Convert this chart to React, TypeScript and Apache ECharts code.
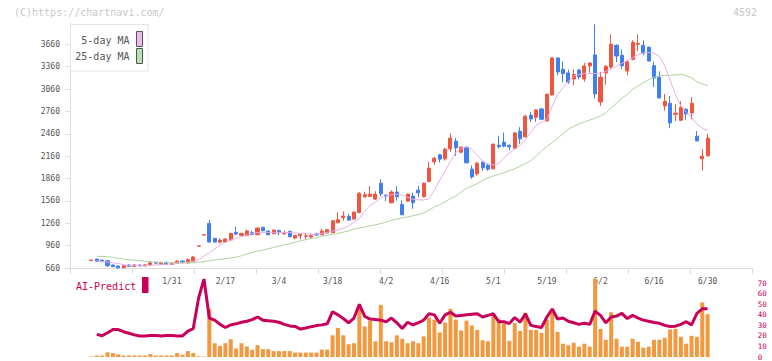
import { useEffect, useRef } from "react";
import * as echarts from "echarts";

// ---- data ----
const dates = [
  "1/9","1/10","1/14","1/15","1/16","1/17","1/20","1/21","1/22","1/23","1/24","1/27","1/28","1/29","1/30","1/31",
  "2/3","2/4","2/5","2/6","2/7","2/10","2/12","2/13","2/14","2/17","2/18","2/19","2/20","2/21","2/25","2/26","2/27","2/28",
  "3/3","3/4","3/5","3/6","3/7","3/10","3/11","3/12","3/13","3/14","3/17","3/18","3/19","3/21","3/24","3/25","3/26","3/27","3/28","3/31",
  "4/1","4/2","4/3","4/4","4/7","4/8","4/9","4/10","4/11","4/14","4/15","4/16","4/17","4/18","4/21","4/22","4/23","4/24","4/25","4/28","4/30",
  "5/1","5/2","5/7","5/8","5/9","5/12","5/13","5/14","5/15","5/16","5/19","5/20","5/21","5/22","5/23","5/26","5/27","5/28","5/29","5/30",
  "6/2","6/3","6/4","6/5","6/6","6/9","6/10","6/11","6/12","6/13","6/16","6/17","6/18","6/19","6/20","6/23","6/24","6/25","6/26","6/27","6/30"
];

const opens = [
  759,780,767,758,700,687,664,700,680,700,
  688,704,736,709,736,709,723,754,727,745,
  951,1101,1258,1058,1008,1008,1035,1138,1097,1093,
  1133,1106,1205,1155,1120,1165,1120,1151,1062,1093,
  1085,1075,1115,1106,1129,1133,1267,1334,1352,1316,
  1406,1615,1620,1584,1798,1637,1535,1678,1513,1557,
  1624,1704,1615,1821,2084,2178,2124,2258,2361,2214,
  2281,1986,1923,2080,2039,1990,2307,2347,2307,2267,
  2495,2419,2709,2682,2794,2633,2981,3477,3325,3276,
  3195,3316,3195,3370,3517,2887,3276,3356,3646,3512,
  3303,3459,3660,3646,3620,3374,3218,2834,2870,2722,
  2642,2790,2740,2428,2124,2164
];

const closes = [
  767,752,745,691,678,662,691,680,700,688,
  702,731,725,736,709,727,754,740,771,807,
  957,1107,1008,1008,1035,1048,1125,1115,1125,1155,
  1110,1196,1160,1106,1169,1133,1128,1080,1097,1111,
  1091,1093,1102,1155,1173,1294,1307,1356,1303,1410,
  1664,1642,1650,1651,1655,1624,1678,1615,1374,1651,
  1535,1668,1798,2000,2133,2120,2254,2401,2272,2281,
  2070,1883,2066,2003,1986,2320,2285,2294,2285,2472,
  2392,2696,2660,2780,2655,2990,3477,3289,3267,3155,
  3258,3222,3370,3410,2995,3218,3365,3660,3503,3374,
  3423,3687,3673,3544,3437,3209,2941,2896,2606,2736,
  2816,2727,2870,2365,2160,2401
];

const lows = [
  757,748,740,673,674,651,660,676,676,684,
  684,700,720,704,700,704,718,718,722,740,
  951,1101,999,1000,989,1000,1030,1100,1090,1088,
  1097,1100,1155,1097,1115,1102,1102,1071,1044,1044,
  1044,1058,1093,1100,1125,1128,1260,1294,1294,1310,
  1392,1605,1610,1571,1620,1557,1526,1566,1370,1550,
  1455,1606,1610,1810,2044,2075,2100,2218,2165,2200,
  2066,1856,1900,1963,1963,1985,2263,2280,2240,2258,
  2325,2410,2620,2620,2650,2625,2975,3244,3150,3130,
  3110,3190,3160,3280,2935,2834,3120,3330,3423,3330,
  3245,3445,3570,3513,3430,3088,2935,2771,2535,2629,
  2630,2647,2655,2360,1968,2160
];

const highs = [
  769,782,770,760,704,690,700,709,713,704,
  706,750,740,740,745,731,758,758,789,820,
  957,1107,1303,1062,1058,1062,1130,1213,1130,1178,
  1160,1200,1210,1165,1173,1169,1160,1160,1102,1115,
  1124,1124,1133,1187,1178,1300,1406,1419,1383,1415,
  1677,1683,1758,1690,1851,1650,1700,1758,1566,1655,
  1670,1762,1802,2084,2151,2191,2271,2468,2401,2290,
  2290,2035,2080,2098,2057,2330,2428,2477,2316,2480,
  2548,2714,2754,2790,2800,3000,3485,3485,3432,3320,
  3325,3330,3410,3420,3928,3289,3380,3790,3660,3593,
  3450,3713,3790,3713,3630,3428,3298,2995,2968,2857,
  2896,2800,2950,2495,2254,2459
];

const ma5 = [
  null,754,750,740,730,720,705,693,691,691,
  691,695,700,705,710,715,722,728,735,748,
  772,820,865,915,965,1005,1035,1058,1080,1100,
  1120,1135,1138,1138,1138,1138,1138,1135,1130,1125,
  1118,1112,1112,1125,1138,1155,1172,1192,1225,1275,
  1320,1420,1500,1540,1600,1630,1645,1650,1640,1610,
  1580,1575,1572,1590,1700,1840,1960,2090,2210,2260,
  2285,2250,2180,2090,2055,2042,2060,2140,2200,2250,
  2310,2380,2480,2575,2615,2650,2830,2980,3080,3160,
  3235,3255,3270,3268,3268,3268,3295,3330,3365,3405,
  3445,3480,3520,3546,3548,3540,3500,3370,3180,2990,
  2830,2750,2680,2590,2535,2505
];

const ma25 = [
  null,817,815,812,805,790,780,770,765,758,
  750,742,738,735,732,731,731,731,731,732,
  738,745,758,770,778,785,795,805,825,850,
  870,885,900,918,935,955,972,985,1005,1025,
  1040,1055,1065,1085,1100,1112,1125,1140,1160,1180,
  1195,1210,1225,1240,1255,1275,1300,1318,1333,1345,
  1360,1375,1400,1435,1480,1510,1545,1590,1625,1680,
  1730,1760,1790,1835,1870,1895,1915,1940,1965,1990,
  2025,2060,2100,2160,2230,2290,2340,2400,2460,2520,
  2560,2590,2620,2645,2670,2700,2740,2810,2870,2935,
  2990,3055,3100,3145,3185,3220,3240,3243,3245,3250,
  3258,3240,3210,3160,3130,3105
];

// volume (10k shares, read as relative bar heights)
const volume = [
  0.5,1.5,1.5,4.7,4,2.7,1.5,1.5,1.5,1.5,
  1.5,3,1.5,1.5,1.5,1.5,4,2.3,6,4,
  0.7,0.5,48.7,14,11.3,14,18,8.7,14,10.7,
  7.3,12,8,8,6,6,6,6,4.5,4.5,
  4.5,4.5,4.5,7.5,7.5,22,29.5,22,13,14,
  48.5,31,37,16,53,16,15,22,18.5,14,
  16,14,21,40,38,25,35,49,38,27,
  37,32,27.5,17,16,42.5,38.5,34,16.5,34.5,
  26.5,45,27.5,27.5,24.5,38,49,25.5,13.5,12,
  14.5,10.5,13.5,10.5,79.5,28.5,17.5,45.5,18.5,10.5,
  10.5,18.5,15.5,9.5,10.5,17.5,17.5,19.5,28,28.5,
  20.5,13.5,21.5,20.5,55.5,43.5
];

const aiPredict = [
  null,21.5,20.2,23,26,26,24,22.5,21,20,
  20,20.5,20.5,20,20.5,20.5,20,20,24.5,27,
  56,74,37,35,31,28,30.5,31.5,33,34,
  35.5,38,35,34.5,34,33,31,29.5,29,26.5,
  27.5,28.8,29.8,30.5,31.5,43,40,36.5,32.5,37,
  50,38.5,36,35.5,35,33.5,37,32.5,27,33,
  30.5,32.5,35,41,40,32,40,42.5,39,39.5,
  40,40.5,41,38,39.5,41,33.5,33.5,31.7,37.5,
  33,41,30,29,28,38,45.5,36,37,34,
  32.5,31,32,31,43.5,39.5,32.5,38,38.8,41.4,
  36.5,39.5,37,35,34,32.7,32,30,29,29.3,
  31,33.5,30.5,41.5,45.7,45.7
];

const dateLabels = ["1/31","2/17","3/4","3/18","4/2","4/16","5/1","5/19","6/2","6/16","6/30"];
const priceTicks = [660,960,1260,1560,1860,2160,2460,2760,3060,3360,3660];
const aiTicks = [0,10,20,30,40,50,60,70];

const MONO = '"DejaVu Sans Mono", "Liberation Mono", monospace';
const UP = "#f0553f";
const DOWN = "#3f7ff0";
const AXIS = "#dcdcdc";
const MAGENTA = "#c8005a";

export default function App() {
  const ref = useRef<HTMLDivElement>(null);

  useEffect(() => {
    if (!ref.current) return;
    const chart = echarts.init(ref.current, null, { renderer: "svg" });
    const labelSet = new Set(dateLabels);

    const dataLeft = 91.43;
    const dataWidth = 616.2;
    const mainTop = 22.7;
    const mainHeight = 245.3;

    const option: any = {
      animation: false,
      backgroundColor: "#ffffff",
      grid: [
        { left: dataLeft, width: dataWidth, top: mainTop, height: mainHeight },
        { left: 70, width: 682, top: mainTop, height: mainHeight },
        { left: dataLeft, width: dataWidth, top: 278, height: 80.3 }
      ],
      xAxis: [
        {
          type: "category",
          gridIndex: 0,
          data: dates,
          boundaryGap: false,
          axisLine: { show: false },
          axisTick: { show: false },
          splitLine: { show: false },
          axisLabel: {
            interval: (_i: number, v: string) => labelSet.has(v),
            margin: 9,
            fontSize: 8,
            fontFamily: MONO,
            color: "#555"
          }
        },
        {
          type: "value",
          gridIndex: 1,
          min: 0,
          max: 11,
          interval: 1,
          axisLine: { show: true, lineStyle: { color: AXIS, width: 1 } },
          axisTick: { show: true, length: 6, lineStyle: { color: AXIS } },
          axisLabel: { show: false },
          splitLine: { show: false }
        },
        {
          type: "category",
          gridIndex: 2,
          data: dates,
          boundaryGap: false,
          show: false
        }
      ],
      yAxis: [
        { type: "value", gridIndex: 0, min: 660, max: 3950, show: false, splitLine: { show: false } },
        {
          type: "value",
          gridIndex: 1,
          min: 660,
          max: 3950,
          axisLine: { show: true, lineStyle: { color: AXIS, width: 1 } },
          axisTick: { show: true, length: 5, customValues: priceTicks, lineStyle: { color: AXIS } },
          axisLabel: {
            customValues: priceTicks,
            formatter: (v: number) => String(v),
            margin: 10,
            fontSize: 8,
            fontFamily: MONO,
            color: "#555"
          },
          splitLine: { show: false }
        },
        {
          type: "value",
          gridIndex: 2,
          min: 0,
          max: 75,
          position: "right",
          offset: 44,
          axisLine: { show: false },
          axisTick: { show: false },
          splitLine: { show: false },
          axisLabel: {
            customValues: aiTicks,
            formatter: (v: number) => String(v),
            margin: 6,
            fontSize: 7.5,
            fontFamily: MONO,
            color: MAGENTA
          }
        },
        { type: "value", gridIndex: 2, min: 0, max: 80.3, show: false, splitLine: { show: false } }
      ],
      series: [
        {
          type: "candlestick",
          xAxisIndex: 0,
          yAxisIndex: 0,
          barWidth: 3.6,
          data: dates.map((_, i) => [opens[i], closes[i], lows[i], highs[i]]),
          itemStyle: { color: UP, color0: DOWN, borderColor: UP, borderColor0: DOWN, borderWidth: 1 }
        },
        {
          type: "line",
          name: "5-day MA",
          xAxisIndex: 0,
          yAxisIndex: 0,
          data: ma5,
          symbol: "none",
          lineStyle: { color: "#e8aee8", width: 1 }
        },
        {
          type: "line",
          name: "25-day MA",
          xAxisIndex: 0,
          yAxisIndex: 0,
          data: ma25,
          symbol: "none",
          lineStyle: { color: "#aad69a", width: 1 }
        },
        {
          type: "bar",
          xAxisIndex: 2,
          yAxisIndex: 3,
          data: volume,
          barWidth: 4,
          itemStyle: { color: "#f2983e" }
        },
        {
          type: "line",
          name: "AI-Predict",
          xAxisIndex: 2,
          yAxisIndex: 2,
          data: aiPredict,
          symbol: "none",
          lineStyle: { color: MAGENTA, width: 3 },
          z: 5
        }
      ],
      graphic: [
        {
          type: "text",
          x: 14,
          y: 12.5,
          style: { text: "(C)https://chartnavi.com/", font: `10px ${MONO}`, fill: "#c8c8c8", textAlign: "left", textVerticalAlign: "middle" }
        },
        {
          type: "text",
          x: 757,
          y: 12.5,
          style: { text: "4592", font: `10px ${MONO}`, fill: "#c8c8c8", textAlign: "right", textVerticalAlign: "middle" }
        },
        {
          type: "rect",
          shape: { x: 70.5, y: 24.5, width: 77.5, height: 46.5 },
          style: { fill: "#ffffff", stroke: "#e2e2e2", lineWidth: 1 },
          z: 10
        },
        {
          type: "text",
          x: 129.5,
          y: 40.5,
          z: 11,
          style: { text: "5-day MA", font: `10px ${MONO}`, fill: "#555", textAlign: "right", textVerticalAlign: "middle" }
        },
        {
          type: "text",
          x: 129.5,
          y: 56.5,
          z: 11,
          style: { text: "25-day MA", font: `10px ${MONO}`, fill: "#555", textAlign: "right", textVerticalAlign: "middle" }
        },
        {
          type: "rect",
          z: 11,
          shape: { x: 136.5, y: 31.5, width: 6, height: 15 },
          style: { fill: "#f0b8f0", stroke: "#555", lineWidth: 1 }
        },
        {
          type: "rect",
          z: 11,
          shape: { x: 136.5, y: 48.5, width: 6, height: 15 },
          style: { fill: "#b8e0b0", stroke: "#555", lineWidth: 1 }
        },
        {
          type: "text",
          x: 76,
          y: 286,
          style: { text: "AI-Predict", font: `10px ${MONO}`, fill: MAGENTA, textAlign: "left", textVerticalAlign: "middle" }
        },
        {
          type: "rect",
          shape: { x: 142, y: 277, width: 6.5, height: 16 },
          style: { fill: MAGENTA }
        }
      ]
    };

    chart.setOption(option);
    return () => chart.dispose();
  }, []);

  return (
    <div
      ref={ref}
      style={{ position: "fixed", left: 0, top: 0, width: 772, height: 361, background: "#fff" }}
    />
  );
}
